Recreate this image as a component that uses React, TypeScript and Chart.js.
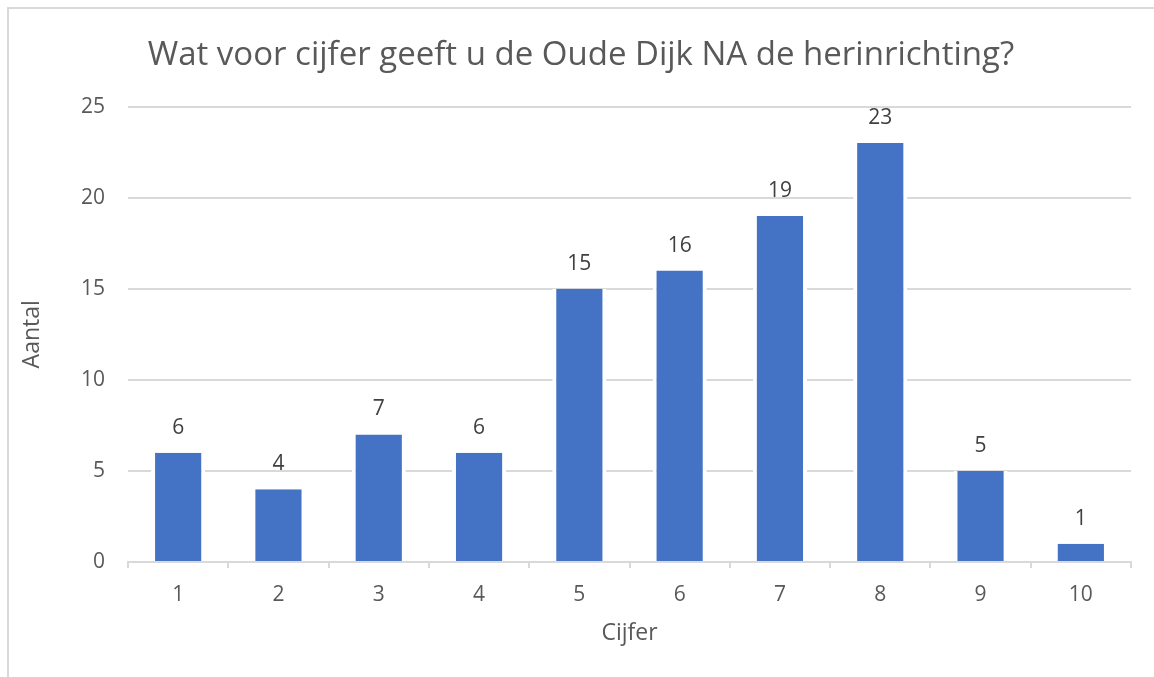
import React, { useEffect, useRef } from "react";
import { Chart, registerables } from "chart.js";

Chart.register(...registerables);

const categories = ["1", "2", "3", "4", "5", "6", "7", "8", "9", "10"];
const counts = [6, 4, 7, 6, 15, 16, 19, 23, 5, 1];
const titleText = "Wat voor cijfer geeft u de Oude Dijk NA de herinrichting?";
const xTitle = "Cijfer";
const yTitle = "Aantal";

const FONT = "'Open Sans', sans-serif";
const GREY = "#595959";
const LINE = "#d9d9d9";

const frame = {
  id: "frame",
  beforeDraw(chart: any) {
    const ctx = chart.ctx;
    ctx.save();
    ctx.fillStyle = "#ffffff";
    ctx.fillRect(0, 0, chart.width, chart.height);
    ctx.strokeStyle = LINE;
    ctx.lineWidth = 2;
    ctx.beginPath();
    ctx.moveTo(8, chart.height);
    ctx.lineTo(8, 8);
    ctx.lineTo(chart.width, 8);
    ctx.stroke();
    ctx.restore();
  },
  afterDraw(chart: any) {
    const ctx = chart.ctx;
    ctx.save();
    ctx.font = `33px ${FONT}`;
    ctx.fillStyle = GREY;
    ctx.textAlign = "center";
    ctx.textBaseline = "alphabetic";
    ctx.fillText(titleText, 581, 65);
    ctx.restore();
  },
};

const valueLabels = {
  id: "valueLabels",
  afterDatasetsDraw(chart: any) {
    const ctx = chart.ctx;
    const meta = chart.getDatasetMeta(0);
    ctx.save();
    ctx.font = `21px ${FONT}`;
    ctx.fillStyle = "#404040";
    ctx.textAlign = "center";
    ctx.textBaseline = "middle";
    meta.data.forEach((bar: any, i: number) => {
      ctx.fillText(String(counts[i]), bar.x, bar.y - 25);
    });
    ctx.restore();
  },
};

export default function App() {
  const ref = useRef<HTMLCanvasElement>(null);
  useEffect(() => {
    if (!ref.current) return;
    const chart = new Chart(ref.current, {
      type: "bar",
      data: {
        labels: categories,
        datasets: [
          {
            data: counts,
            backgroundColor: "#4472C4",
            borderColor: "#ffffff",
            borderWidth: { left: 4, right: 4, top: 0, bottom: 0 },
            borderSkipped: false,
            categoryPercentage: 1,
            barPercentage: 0.54,
          },
        ],
      },
      options: {
        responsive: false,
        animation: false,
        layout: { padding: { left: 0, right: 23, top: 0, bottom: 0 } },
        plugins: {
          legend: { display: false },
          tooltip: { enabled: false },
          title: {
            display: true,
            text: titleText,
            color: "rgba(0,0,0,0)",
            font: { family: FONT, size: 33, weight: "normal" },
            padding: { top: 30, bottom: 37 },
          },
        },
        scales: {
          x: {
            offset: true,
            grid: {
              offset: true,
              drawOnChartArea: false,
              drawTicks: true,
              tickLength: 6,
              color: LINE,
              lineWidth: 2,
            },
            border: { display: true, color: LINE, width: 2 },
            ticks: {
              color: GREY,
              font: { family: FONT, size: 21 },
              padding: 14,
            },
            title: {
              display: true,
              text: xTitle,
              color: GREY,
              font: { family: FONT, size: 23 },
              padding: { top: 0, bottom: 30 },
            },
            afterFit: (s: any) => {
              s.height = 115;
            },
          },
          y: {
            min: 0,
            max: 25,
            ticks: {
              stepSize: 5,
              color: GREY,
              font: { family: FONT, size: 21 },
              padding: 23,
            },
            grid: { drawTicks: false, color: LINE, lineWidth: 2 },
            border: { display: false },
            title: {
              display: true,
              text: yTitle,
              color: GREY,
              font: { family: FONT, size: 23 },
              padding: { top: 19, bottom: 0 },
            },
            afterFit: (s: any) => {
              s.width = 128;
            },
          },
        },
      },
      plugins: [frame, valueLabels],
    });
    return () => chart.destroy();
  }, []);
  return (
    <canvas
      ref={ref}
      width={1154}
      height={677}
      style={{ position: "fixed", left: 0, top: 0, display: "block" }}
    />
  );
}
